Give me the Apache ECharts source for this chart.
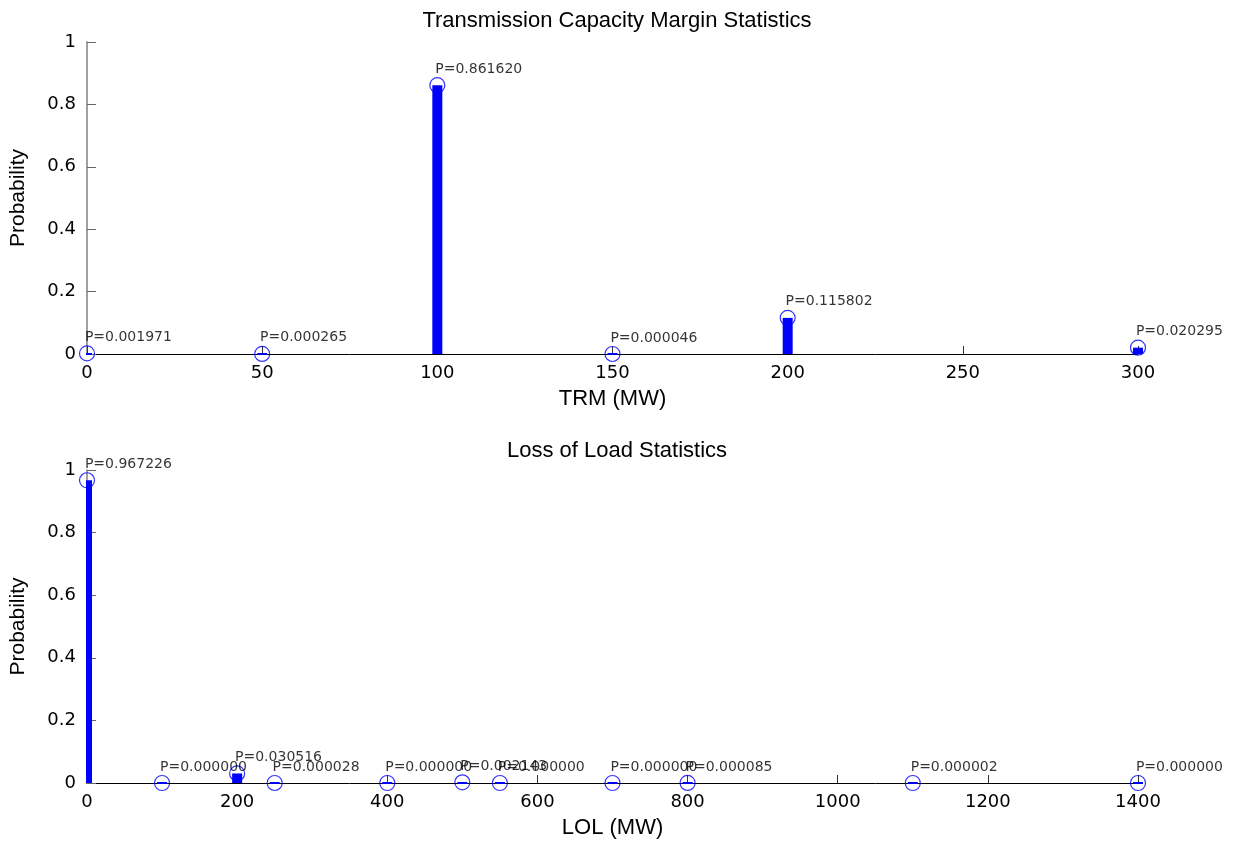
<!DOCTYPE html>
<html>
<head>
<meta charset="utf-8">
<script src="https://cdn.jsdelivr.net/npm/echarts@6/dist/echarts.min.js"></script>
<style>
  html, body { margin: 0; padding: 0; background: #fff; }
  #chart { width: 1241px; height: 841px; }
</style>
</head>
<body>
<div id="chart"></div>
<script>
// Transmission reliability margin levels (MW) and their probabilities
const trmLevels = [0, 50, 100, 150, 200, 300];
const trmProb = [0.001971, 0.000265, 0.861620, 0.000046, 0.115802, 0.020295];

// Loss-of-load levels (MW) and their probabilities
const lolLevels = [0, 100, 200, 250, 400, 500, 550, 700, 800, 1100, 1400];
const lolProb = [0.967226, 0.000000, 0.030516, 0.000028, 0.000000, 0.002143,
                 0.000000, 0.000000, 0.000085, 0.000002, 0.000000];

// Axis ranges and tick spacing
const trmAxis = { min: 0, max: 300, interval: 50 };
const lolAxis = { min: 0, max: 1400, interval: 200 };
const probAxis = { min: 0, max: 1, interval: 0.2 };

const titles = ['Transmission Capacity Margin Statistics', 'Loss of Load Statistics'];
const xNames = ['TRM (MW)', 'LOL (MW)'];
const yName = 'Probability';

const BLUE = '#0000ff';
const tickFont = { fontFamily: 'DejaVu Sans', fontSize: 18, color: '#000' };
const nameFont = { fontFamily: 'Liberation Sans', fontSize: 21, color: '#000' };

function pairs(xs, ys) { return xs.map((x, i) => [x, ys[i]]); }

function xAxisCfg(gridIndex, range, name) {
  return {
    type: 'value', gridIndex, min: range.min, max: range.max, interval: range.interval,
    name, nameLocation: 'middle', nameGap: 34,
    nameTextStyle: { fontFamily: 'Liberation Sans', fontSize: 22, color: '#000' },
    axisLine: { show: true, onZero: false, lineStyle: { color: '#000', width: 1 } },
    axisTick: { show: true, inside: true, length: 8, lineStyle: { color: '#333' } },
    axisLabel: Object.assign({ margin: 10, formatter: v => String(v) }, tickFont),
    splitLine: { show: false }
  };
}

function yAxisCfg(gridIndex) {
  return {
    type: 'value', gridIndex, min: probAxis.min, max: probAxis.max, interval: probAxis.interval,
    name: yName, nameLocation: 'middle', nameGap: 58, nameRotate: 90,
    nameTextStyle: nameFont,
    axisLine: { show: true, lineStyle: { color: '#808080', width: 1.5 } },
    axisTick: { show: true, inside: true, length: 9, lineStyle: { color: '#666' } },
    axisLabel: Object.assign({ margin: 11, formatter: v => String(+v.toFixed(1)) }, tickFont),
    splitLine: { show: false }
  };
}

// Thick stem from the baseline up to the value, kept inside the plot area
function renderStem(params, api) {
  const top = api.coord([api.value(0), api.value(1)]);
  const base = api.coord([api.value(0), 0]);
  const half = 5;
  const cs = params.coordSys;
  const x0 = Math.max(top[0] - half, cs.x - 1);
  const x1 = Math.min(top[0] + half, cs.x + cs.width + half);
  const h = Math.max(base[1] - top[1], 2);
  const y0 = base[1] - top[1] < 2 ? base[1] - 1 : top[1];
  return {
    type: 'rect',
    shape: { x: x0, y: y0, width: x1 - x0, height: h },
    style: { fill: BLUE }
  };
}

function stemSeries(idx, xs, ys) {
  return [
    {
      type: 'custom', xAxisIndex: idx, yAxisIndex: idx,
      data: pairs(xs, ys), renderItem: renderStem, encode: { x: 0, y: 1 },
      z: 2, silent: true
    },
    {
      type: 'scatter', xAxisIndex: idx, yAxisIndex: idx,
      data: pairs(xs, ys), symbol: 'circle', symbolSize: 15, clip: false,
      itemStyle: { color: 'rgba(0,0,0,0)', borderColor: BLUE, borderWidth: 1.2 },
      label: {
        show: true, position: [6, -8], align: 'left', verticalAlign: 'middle',
        fontFamily: 'DejaVu Sans', fontSize: 14, color: '#000',
        formatter: p => 'P=' + p.value[1].toFixed(6)
      },
      z: 3, silent: true
    }
  ];
}

const chart = echarts.init(document.getElementById('chart'), null, { renderer: 'canvas' });
chart.setOption({
  animation: false,
  backgroundColor: '#fff',
  title: [
    { text: titles[0], left: 612, top: 5, textAlign: 'center',
      textStyle: { fontFamily: 'Liberation Sans', fontSize: 22, fontWeight: 'normal', color: '#000' } },
    { text: titles[1], left: 612, top: 435, textAlign: 'center',
      textStyle: { fontFamily: 'Liberation Sans', fontSize: 22, fontWeight: 'normal', color: '#000' } }
  ],
  grid: [
    { left: 86, right: 103, top: 42, height: 312, containLabel: false },
    { left: 86, right: 103, top: 470, height: 313, containLabel: false }
  ],
  xAxis: [xAxisCfg(0, trmAxis, xNames[0]), xAxisCfg(1, lolAxis, xNames[1])],
  yAxis: [yAxisCfg(0), yAxisCfg(1)],
  series: [].concat(stemSeries(0, trmLevels, trmProb), stemSeries(1, lolLevels, lolProb))
});
</script>
</body>
</html>
